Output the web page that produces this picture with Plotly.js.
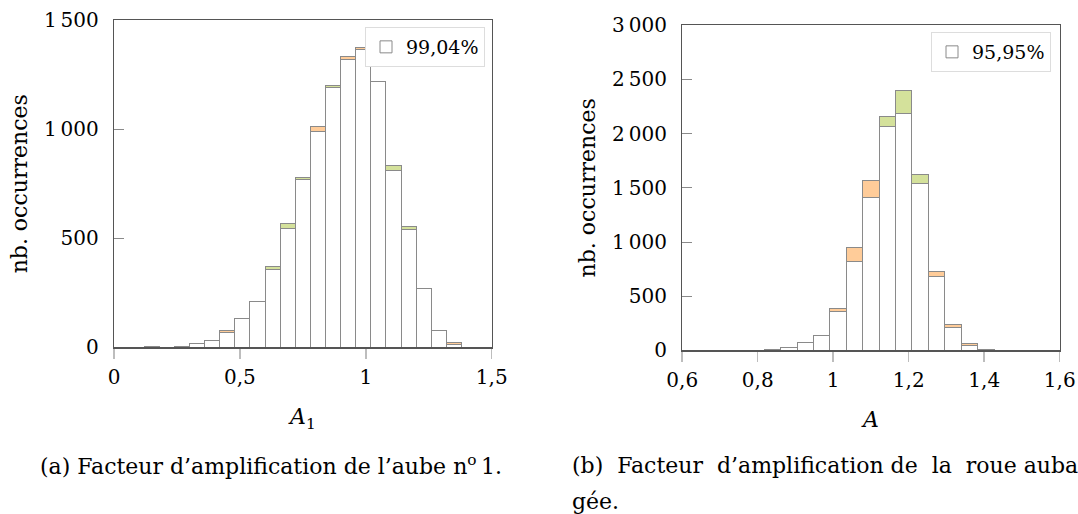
<!DOCTYPE html>
<html>
<head>
<meta charset="utf-8">
<script src="https://cdn.plot.ly/plotly-3.0.1.min.js"></script>
<style>
html,body{margin:0;padding:0;background:#ffffff;}
#chart{width:1078px;height:514px;}
</style>
</head>
<body>
<div id="chart"></div>
<script>
// ---- Left histogram: A1, 25 bins from 0 to 1.5 ----
const leftRange = [0, 1.5];
const leftBinCount = 25;
const leftWhite  = [0,0,2,0,5,16,32,66,132,212,358,546,772,992,1193,1321,1364,1218,812,541,271,79,11,0,0];
const leftOrange = [0,0,0,0,0,0,0,11,0,0,0,0,0,23,0,12,10,0,0,0,0,0,9,0,0];
const leftGreen  = [0,0,0,0,0,0,0,0,0,0,12,20,8,0,7,0,0,0,24,12,0,0,0,0,0];
const leftLegend = "99,04%";
const leftXTickVals = [0, 0.5, 1, 1.5];
const leftXTickText = ["0", "0,5", "1", "1,5"];
const leftYTickVals = [0, 500, 1000, 1500];
const leftYTickText = ["0", "500", "1\u2009000", "1\u2009500"];

// ---- Right histogram: A, 23 bins from 0.6 to 1.6 ----
const rightRange = [0.6, 1.6];
const rightBinCount = 23;
const rightWhite  = [0,0,0,0,0,6,29,76,137,357,818,1410,2064,2187,1541,686,213,43,9,2,0,0,0];
const rightOrange = [0,0,0,0,0,0,0,0,0,31,129,162,0,0,0,46,28,22,0,0,0,0,0];
const rightGreen  = [0,0,0,0,0,0,0,0,5,0,0,0,93,215,83,0,0,0,0,0,0,0,0];
const rightLegend = "95,95%";
const rightXTickVals = [0.6, 0.8, 1, 1.2, 1.4, 1.6];
const rightXTickText = ["0,6", "0,8", "1", "1,2", "1,4", "1,6"];
const rightYTickVals = [0, 500, 1000, 1500, 2000, 2500, 3000];
const rightYTickText = ["0", "500", "1\u2009000", "1\u2009500", "2\u2009000", "2\u2009500", "3\u2009000"];

const yTitle = "nb. occurrences";
const leftXTitle = "<i>A</i><sub>1</sub>";
const rightXTitle = "<i>A</i>";
const captionA = "(a) Facteur d\u2019amplification de l\u2019aube n<sup>o</sup>\u20091.";
const captionB1 = "(b) \u00a0Facteur \u00a0d\u2019amplification de \u00a0la \u00a0roue auba-";
const captionB2 = "g\u00e9e.";

// ---- styles ----
const FONT = 'DejaVu Serif';
const edge = {color: '#8a8a8a', width: 1};
const WHITE = '#ffffff', ORANGE = '#ffcc99', GREEN = '#d4e19b';

function centers(range, n) {
  const w = (range[1] - range[0]) / n;
  const c = [];
  for (let i = 0; i < n; i++) c.push(range[0] + (i + 0.5) * w);
  return {c: c, w: w};
}
function nz(arr) { return arr.map(v => v === 0 ? null : v); }

const L = centers(leftRange, leftBinCount);
const R = centers(rightRange, rightBinCount);

function barTrace(xs, w, ys, color, xa, ya, name, showleg, legendId) {
  return {
    type: 'bar', x: xs, y: ys, width: xs.map(() => w),
    marker: {color: color, line: edge},
    xaxis: xa, yaxis: ya, name: name,
    showlegend: showleg, legend: legendId, hoverinfo: 'x+y'
  };
}

const data = [
  barTrace(L.c, L.w, leftWhite, WHITE, 'x', 'y', leftLegend, true, 'legend'),
  barTrace(L.c, L.w, nz(leftOrange), ORANGE, 'x', 'y', 'orange', false, 'legend'),
  barTrace(L.c, L.w, nz(leftGreen), GREEN, 'x', 'y', 'green', false, 'legend'),
  barTrace(R.c, R.w, rightWhite, WHITE, 'x2', 'y2', rightLegend, true, 'legend2'),
  barTrace(R.c, R.w, nz(rightOrange), ORANGE, 'x2', 'y2', 'orange', false, 'legend2'),
  barTrace(R.c, R.w, nz(rightGreen), GREEN, 'x2', 'y2', 'green', false, 'legend2')
];

const tickFont = {family: FONT, size: 20, color: '#000'};
const titleFont = {family: FONT, size: 22, color: '#000'};

function xAxis(domain, range, tv, tt, anchor, title) {
  return {
    domain: domain, range: range, anchor: anchor,
    tickvals: tv, ticktext: tt, ticks: 'outside', ticklen: 10, tickcolor: '#bdbdbd', tickwidth: 1.5,
    showline: true, linecolor: '#555', linewidth: 1.2, mirror: true,
    showgrid: false, zeroline: false, tickfont: tickFont, ticklabelstandoff: 1,
    title: {text: title, font: titleFont, standoff: 21}, fixedrange: true
  };
}
function yAxis(domain, range, tv, tt, anchor) {
  return {
    domain: domain, range: range, anchor: anchor,
    tickvals: tv, ticktext: tt, ticks: 'inside', ticklen: 10, tickcolor: '#8a8a8a', tickwidth: 1,
    showline: true, linecolor: '#555', linewidth: 1.2, mirror: true,
    showgrid: false, zeroline: false, tickfont: tickFont, ticklabelstandoff: 10,
    title: {text: yTitle, font: titleFont, standoff: 10}, fixedrange: true
  };
}

const W = 1078, H = 514;
const layout = {
  width: W, height: H,
  margin: {l: 0, r: 0, t: 0, b: 0},
  paper_bgcolor: '#fff', plot_bgcolor: '#fff',
  barmode: 'stack', bargap: 0,
  font: {family: FONT, color: '#000'},
  xaxis: xAxis([114 / W, 491.7 / W], leftRange, leftXTickVals, leftXTickText, 'y', leftXTitle),
  yaxis: yAxis([1 - 347.3 / H, 1 - 20.3 / H], [0, 1500], leftYTickVals, leftYTickText, 'x'),
  xaxis2: xAxis([682.2 / W, 1059.7 / W], rightRange, rightXTickVals, rightXTickText, 'y2', rightXTitle),
  yaxis2: yAxis([1 - 350.4 / H, 1 - 25.2 / H], [0, 3000], rightYTickVals, rightYTickText, 'x2'),
  legend: {
    x: 485 / W, xanchor: 'right', y: 1 - 27 / H, yanchor: 'top',
    bgcolor: '#fff', bordercolor: '#dddddd', borderwidth: 1,
    font: {family: FONT, size: 19, color: '#000'}, itemwidth: 30
  },
  legend2: {
    x: 1051 / W, xanchor: 'right', y: 1 - 32 / H, yanchor: 'top',
    bgcolor: '#fff', bordercolor: '#dddddd', borderwidth: 1,
    font: {family: FONT, size: 19, color: '#000'}, itemwidth: 30
  },
  annotations: [
    {text: captionA, xref: 'paper', yref: 'paper', x: 38 / W, y: 1 - 465 / H,
     xanchor: 'left', yanchor: 'middle', showarrow: false, align: 'left',
     font: {family: FONT, size: 22, color: '#000'}},
    {text: captionB1, xref: 'paper', yref: 'paper', x: 570 / W, y: 1 - 465 / H,
     xanchor: 'left', yanchor: 'middle', showarrow: false, align: 'left',
     font: {family: FONT, size: 22, color: '#000'}},
    {text: captionB2, xref: 'paper', yref: 'paper', x: 570 / W, y: 1 - 501 / H,
     xanchor: 'left', yanchor: 'middle', showarrow: false, align: 'left',
     font: {family: FONT, size: 22, color: '#000'}}
  ]
};

Plotly.newPlot('chart', data, layout, {displayModeBar: false, staticPlot: true});
</script>
</body>
</html>
